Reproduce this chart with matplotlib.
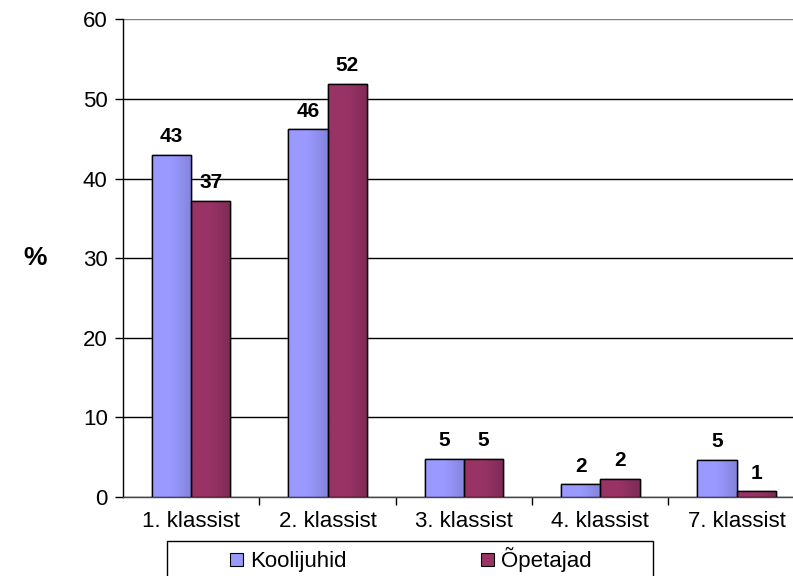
import numpy as np
import matplotlib
matplotlib.use("Agg")
import matplotlib.pyplot as plt
from matplotlib.colors import LinearSegmentedColormap

categories = ["1. klassist", "2. klassist", "3. klassist", "4. klassist", "7. klassist"]
koolijuhid = [43.0, 46.2, 4.8, 1.6, 4.7]
opetajad = [37.2, 51.9, 4.8, 2.3, 0.7]
koolijuhid_labels = ["43", "46", "5", "2", "5"]
opetajad_labels = ["37", "52", "5", "2", "1"]
series_names = ["Koolijuhid", "Õpetajad"]

plt.rcParams["font.family"] = ["Liberation Sans", "DejaVu Sans"]

fig = plt.figure(figsize=(7.93, 5.76), dpi=100)
# plot area runs a little past the right edge of the figure, as in the original
ax = fig.add_axes([0.155, 0.1372, 0.860, 0.829])

x = np.arange(len(categories))
w = 0.288
blue = "#9999FF"
maroon = "#993366"

b1 = ax.bar(x - w / 2, koolijuhid, w, color=blue, edgecolor="black", linewidth=1.0, zorder=3)
b2 = ax.bar(x + w / 2, opetajad, w, color=maroon, edgecolor="black", linewidth=1.0, zorder=3)


# soft shading toward the right edge of each bar
def shade(bars, light, dark):
    cmap = LinearSegmentedColormap.from_list("s", [light, light, dark])
    grad = np.linspace(0, 1, 64).reshape(1, -1)
    for b in bars:
        x0, y0 = b.get_x(), b.get_y()
        im = ax.imshow(grad, cmap=cmap, aspect="auto", zorder=3.5,
                       extent=[x0, x0 + b.get_width(), y0, y0 + b.get_height()])
        im.set_clip_path(b)
        edge = plt.Rectangle((x0, y0), b.get_width(), b.get_height(), fill=False,
                             edgecolor="black", linewidth=1.0, zorder=4)
        ax.add_patch(edge)


shade(b1, "#9999FF", "#8484DC")
shade(b2, "#993366", "#7F2B55")

for bars, labels in ((b1, koolijuhid_labels), (b2, opetajad_labels)):
    for b, lab in zip(bars, labels):
        ax.annotate(lab, (b.get_x() + b.get_width() / 2, b.get_height()),
                    xytext=(0, 18), textcoords="offset pixels",
                    ha="center", va="center", fontsize=15, fontweight="bold", zorder=5)

ax.set_xlim(-0.5, len(categories) - 0.5)
ax.set_ylim(0, 60)
ax.set_yticks(range(0, 61, 10))
ax.set_xticks(x)
ax.set_xticklabels(categories, fontsize=16)
ax.set_xticks(np.arange(0.5, len(categories) - 0.5, 1), minor=True)
ax.tick_params(axis="x", which="major", length=0, pad=10)
ax.tick_params(axis="x", which="minor", length=6, direction="out", width=1)
ax.tick_params(axis="y", labelsize=16, length=6, width=1, direction="out", pad=5)
ax.yaxis.grid(True, color="black", linewidth=1.0, zorder=0)
ax.set_axisbelow(True)
for s in ("top", "right"):
    ax.spines[s].set_visible(False)
ax.spines["left"].set_linewidth(1.0)
ax.spines["bottom"].set_linewidth(1.0)
ax.spines["bottom"].set_color("#444444")
ax.get_ygridlines()[-1].set_color("#808080")

fig.text(0.044, 0.552, "%", fontsize=19, fontweight="bold", ha="center", va="center")

# legend box, cut off by the bottom edge of the figure
frame = plt.Rectangle((0.211, -0.05), 0.613, 0.1113, transform=fig.transFigure,
                      fill=False, edgecolor="black", linewidth=1.0)
fig.patches.append(frame)

handles = [plt.Rectangle((0, 0), 1, 1, facecolor=blue, edgecolor="black", linewidth=0.8),
           plt.Rectangle((0, 0), 1, 1, facecolor=maroon, edgecolor="black", linewidth=0.8)]
fig.legend(handles, series_names, loc="center", bbox_to_anchor=(0.5185, 0.028),
           ncol=2, frameon=False, fontsize=16, handlelength=0.55, handleheight=0.55,
           handletextpad=0.35, columnspacing=6.05, borderpad=0, borderaxespad=0)

fig.savefig("out.png", dpi=100)
